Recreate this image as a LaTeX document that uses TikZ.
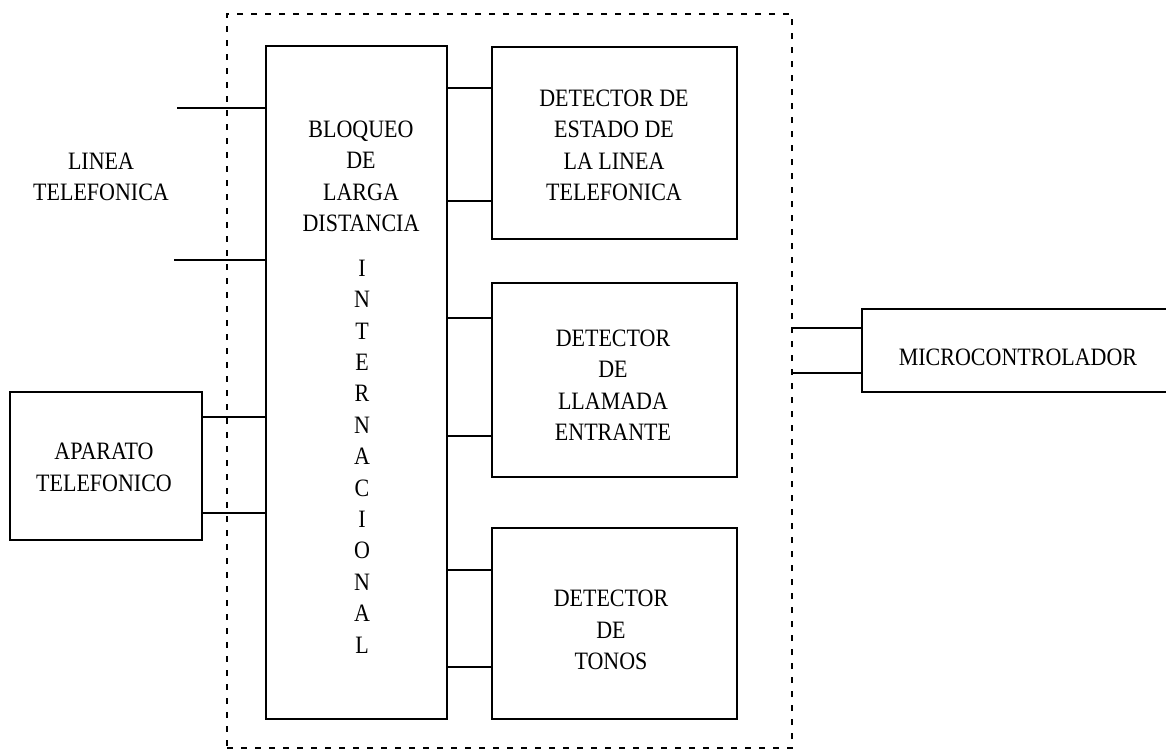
\documentclass[tikz,border=0pt]{standalone}
\usepackage{fontspec}
\setmainfont[FakeStretch=0.88]{Liberation Serif}
\begin{document}
\begin{tikzpicture}[x=1pt,y=-1pt,
  box/.style={draw,line width=1.3pt,inner sep=0pt},
  wire/.style={line width=1.3pt},
  lbl/.style={align=center,inner sep=0pt,font=\fontsize{25}{31.5}\selectfont},
  vlbl/.style={align=center,inner sep=0pt,font=\fontsize{25}{31.4}\selectfont},
  border/.style={draw,line width=1.6pt,dash pattern=on 6pt off 8pt,inner sep=0pt}]
\useasboundingbox (0,0) rectangle (1166,753);
% frame
\node[border,minimum width=565pt,minimum height=734pt] (frame) at (509.5,381) {};
% boxes
\node[box,minimum width=181pt,minimum height=673pt] (big) at (356.5,382.5) {};
\node[box,minimum width=245pt,minimum height=192pt] (det1) at (614.5,143) {};
\node[box,minimum width=245pt,minimum height=194pt] (det2) at (614.5,380) {};
\node[box,minimum width=245pt,minimum height=191pt] (det3) at (614.5,623.5) {};
\node[box,minimum width=192pt,minimum height=148pt] (apar) at (106,466) {};
\node[box,minimum width=308pt,minimum height=83pt] (micro) at (1016,350.5) {};
% texts
\node[lbl] (bigtxt) at (361,176.5) {BLOQUEO\\DE\\LARGA\\DISTANCIA};
\node[vlbl] (vtxt) at (362,456.5) {I\\N\\T\\E\\R\\N\\A\\C\\I\\O\\N\\A\\L};
\node[lbl] (d1txt) at (614,145.5) {DETECTOR DE\\ESTADO DE\\LA LINEA\\TELEFONICA};
\node[lbl] (d2txt) at (613,385) {DETECTOR\\DE\\LLAMADA\\ENTRANTE};
\node[lbl] (d3txt) at (611,630) {DETECTOR\\DE\\TONOS};
\node[lbl] (lintxt) at (101,177) {LINEA\\TELEFONICA};
\node[lbl] (aptxt) at (104,467.5) {APARATO\\TELEFONICO};
\node[lbl] (mctxt) at (1018,357) {MICROCONTROLADOR};
% line endpoints
\coordinate (l1) at (177,108);
\coordinate (l2) at (174,260);
% wires
\draw[wire] (l1) -- (big.west |- l1);
\draw[wire] (l2) -- (big.west |- l2);
\draw[wire] (apar.east |- 0,417) -- (big.west |- 0,417);
\draw[wire] (apar.east |- 0,513) -- (big.west |- 0,513);
\draw[wire] (big.east |- 0,88) -- (det1.west |- 0,88);
\draw[wire] (big.east |- 0,201) -- (det1.west |- 0,201);
\draw[wire] (big.east |- 0,318) -- (det2.west |- 0,318);
\draw[wire] (big.east |- 0,436) -- (det2.west |- 0,436);
\draw[wire] (big.east |- 0,570) -- (det3.west |- 0,570);
\draw[wire] (big.east |- 0,667) -- (det3.west |- 0,667);
\draw[wire] (frame.east |- 0,328) -- (micro.west |- 0,328);
\draw[wire] (frame.east |- 0,373) -- (micro.west |- 0,373);
\end{tikzpicture}
\end{document}
